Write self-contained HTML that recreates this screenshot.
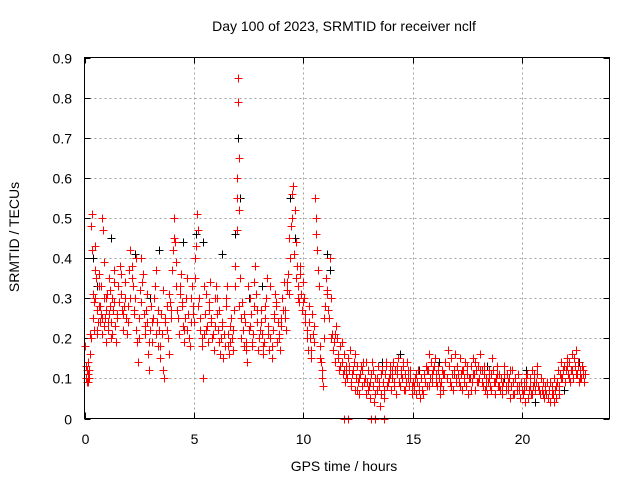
<!DOCTYPE html>
<html><head><meta charset="utf-8"><style>
body{margin:0;background:#fff}
svg{display:block;font-family:"Liberation Sans",sans-serif}
</style></head><body>
<svg id="chart" width="640" height="480" viewBox="0 0 640 480">
<rect width="640" height="480" fill="#fff"/>
<text x="344" y="31" font-size="14" text-anchor="middle" fill="#000">Day 100 of 2023, SRMTID for receiver nclf</text>
<text x="344" y="471" font-size="14" text-anchor="middle" fill="#000">GPS time / hours</text>
<text transform="translate(19,237) rotate(-90)" font-size="14" text-anchor="middle" fill="#000">SRMTID / TECUs</text>
<g id="grid"></g>
<g id="ticks"></g>
<g id="blackPts" stroke="#000" stroke-width="1"></g>
<g id="redPts" stroke="#f00" stroke-width="1"></g>
<rect x="84.5" y="57.5" width="525" height="361" fill="none" stroke="#000" stroke-width="1"/>
</svg>
<script>
const xTicks=[0,5,10,15,20];
const yTicks=[0,0.1,0.2,0.3,0.4,0.5,0.6,0.7,0.8,0.9];
const yTickLabels=["0","0.1","0.2","0.3","0.4","0.5","0.6","0.7","0.8","0.9"];
const blackData=[[0.4,0.40],[0.55,0.33],[1.2,0.45],[2.3,0.41],[3.4,0.42],[4.5,0.44],[5.1,0.46],[5.4,0.44],[6.3,0.41],[6.9,0.46],[7.02,0.70],[7.1,0.55],[7.5,0.30],[9.4,0.55],[9.6,0.45],[11.1,0.41],[11.2,0.37],[13.6,0.14],[14.4,0.16],[15.3,0.12],[16.2,0.14],[17.3,0.12],[18.4,0.13],[19.2,0.10],[20.2,0.12],[20.6,0.04],[21.3,0.09],[21.9,0.07],[22.6,0.14],[3.0,0.30],[8.1,0.33]];
const redData=[[0.02,.18],[0.05,.10],[0.08,.13],[0.1,.09],[0.12,.12],[0.15,.11],[0.18,.14],[0.2,.10],[0.22,.12],[0.25,.16],[0.28,.20],[0.3,.48],[0.33,.42],[0.36,.51],[0.4,.25],[0.42,.22],[0.45,.29],[0.48,.30],[0.5,.43],[0.52,.35],[0.55,.27],[0.58,.21],[0.6,.24],[0.65,.33],[0.68,.36],[0.7,.28],[0.72,.24],[0.75,.26],[0.78,.21],[0.8,.25],[0.82,.50],[0.85,.47],[0.88,.39],[0.9,.30],[0.93,.25],[0.96,.19],[1.0,.27],
[1.03,.31],[1.06,.22],[1.1,.26],[1.13,.35],[1.16,.28],[1.2,.20],[1.23,.24],[1.26,.30],[1.3,.27],[1.33,.34],[1.36,.29],[1.4,.23],[1.45,.19],[1.5,.26],[1.55,.33],[1.6,.38],[1.65,.31],[1.7,.27],[1.75,.22],[1.8,.28],[1.85,.34],[1.9,.25],[1.95,.21],[2.0,.28],
[2.05,.37],[2.1,.42],[2.15,.38],[2.2,.33],[2.25,.26],[2.3,.30],[2.35,.22],[2.4,.19],[2.45,.14],[2.5,.25],[2.55,.32],[2.6,.40],[2.65,.34],[2.7,.26],[2.75,.21],[2.8,.27],[2.85,.24],[2.9,.16],[2.95,.12],[3.0,.22],
[3.05,.28],[3.1,.19],[3.15,.25],[3.2,.33],[3.25,.37],[3.3,.24],[3.35,.18],[3.4,.22],[3.45,.15],[3.5,.26],[3.55,.21],[3.6,.12],[3.65,.10],[3.7,.24],[3.75,.28],[3.8,.20],[3.85,.16],[3.9,.29],[3.95,.25],[4.0,.37],
[4.05,.42],[4.1,.50],[4.15,.44],[4.2,.33],[4.25,.27],[4.3,.21],[4.35,.31],[4.4,.36],[4.45,.28],[4.5,.23],[4.55,.19],[4.6,.25],[4.65,.30],[4.7,.22],[4.75,.26],[4.8,.18],[4.85,.24],[4.9,.33],[4.95,.28],[5.0,.24],
[5.05,.35],[5.1,.43],[5.15,.51],[5.2,.47],[5.25,.30],[5.3,.22],[5.35,.18],[5.4,.10],[5.45,.21],[5.5,.26],[5.55,.31],[5.6,.23],[5.65,.19],[5.7,.27],[5.75,.34],[5.8,.25],[5.85,.20],[5.9,.17],[5.95,.23],[6.0,.33],
[6.05,.30],[6.1,.22],[6.15,.27],[6.2,.16],[6.25,.20],[6.3,.23],[6.35,.15],[6.4,.18],[6.45,.28],[6.5,.33],[6.55,.21],[6.6,.16],[6.65,.19],[6.7,.25],[6.75,.20],[6.8,.17],[6.85,.27],[6.9,.38],[6.95,.47],[6.98,.60],[7.0,.85],[7.02,.79],[7.04,.65],[7.06,.52],[7.1,.35],
[7.15,.25],[7.2,.29],[7.25,.22],[7.3,.18],[7.35,.24],[7.4,.19],[7.45,.14],[7.5,.22],[7.55,.30],[7.6,.26],[7.65,.18],[7.7,.21],[7.75,.28],[7.8,.38],[7.85,.31],[7.9,.24],[7.95,.17],[8.0,.22],
[8.05,.27],[8.1,.21],[8.15,.16],[8.2,.19],[8.25,.25],[8.3,.30],[8.35,.35],[8.4,.23],[8.45,.17],[8.5,.20],[8.55,.15],[8.6,.22],[8.65,.26],[8.7,.31],[8.75,.28],[8.8,.19],[8.85,.24],[8.9,.21],[8.95,.17],[9.0,.25],
[9.05,.30],[9.1,.34],[9.15,.27],[9.2,.22],[9.25,.32],[9.3,.36],[9.35,.31],[9.4,.40],[9.45,.48],[9.5,.56],[9.55,.58],[9.6,.52],[9.65,.44],[9.7,.38],[9.75,.33],[9.8,.29],[9.85,.36],[9.9,.31],[9.95,.27],[10.0,.34],
[10.05,.30],[10.1,.26],[10.15,.22],[10.2,.17],[10.25,.24],[10.3,.20],[10.35,.15],[10.4,.26],[10.45,.21],[10.5,.19],[10.55,.55],[10.6,.50],[10.65,.42],[10.7,.33],[10.75,.18],[10.8,.14],[10.85,.10],[10.9,.08],[10.95,.20],[11.0,.28],
[11.05,.35],[11.1,.31],[11.15,.27],[11.2,.40],[11.25,.30],[11.3,.21],[11.35,.17],[11.4,.19],[11.45,.14],[11.5,.23],[11.55,.20],[11.6,.16],[11.65,.12],[11.7,.18],[11.75,.14],[11.8,.11],[11.85,.16],[11.9,.09],[11.95,.13],[12.0,.10],
[12.05,.15],[12.1,.12],[12.15,.17],[12.2,.08],[12.25,.11],[12.3,.14],[12.35,.07],[12.4,.10],[12.45,.13],[12.5,.09],[12.55,.06],[12.6,.11],[12.65,.13],[12.7,.08],[12.75,.14],[12.8,.10],[12.85,.06],[12.9,.09],[12.95,.12],[13.0,.08],
[11.85,0],[12.05,0],[13.1,0],[13.3,0],[13.7,0],
[13.05,.05],[13.1,.11],[13.15,.14],[13.2,.08],[13.25,.04],[13.3,.10],[13.35,.07],[13.4,.13],[13.45,.09],[13.5,.03],[13.55,.06],[13.6,.12],[13.65,.09],[13.7,.05],[13.75,.11],[13.8,.14],[13.85,.08],[13.9,.10],[13.95,.13],[14.0,.07],
[14.05,.10],[14.1,.14],[14.15,.09],[14.2,.12],[14.25,.06],[14.3,.11],[14.35,.15],[14.4,.08],[14.45,.12],[14.5,.10],[14.55,.13],[14.6,.07],[14.65,.11],[14.7,.09],[14.75,.14],[14.8,.12],[14.85,.08],[14.9,.10],[14.95,.06],[15.0,.09],
[15.05,.07],[15.1,.10],[15.15,.06],[15.2,.09],[15.25,.12],[15.3,.08],[15.35,.05],[15.4,.10],[15.45,.07],[15.5,.11],[15.55,.09],[15.6,.13],[15.65,.08],[15.7,.12],[15.75,.16],[15.8,.10],[15.85,.14],[15.9,.09],[15.95,.12],[16.0,.15],
[16.05,.11],[16.1,.08],[16.15,.13],[16.2,.10],[16.25,.06],[16.3,.09],[16.35,.12],[16.4,.07],[16.45,.11],[16.5,.14],[16.55,.10],[16.6,.17],[16.65,.13],[16.7,.09],[16.75,.15],[16.8,.11],[16.85,.07],[16.9,.12],[16.95,.16],[17.0,.10],
[17.05,.13],[17.1,.09],[17.15,.15],[17.2,.11],[17.25,.07],[17.3,.12],[17.35,.10],[17.4,.14],[17.45,.08],[17.5,.11],[17.55,.06],[17.6,.10],[17.65,.13],[17.7,.09],[17.75,.15],[17.8,.11],[17.85,.07],[17.9,.12],[17.95,.09],[18.0,.13],
[18.05,.10],[18.1,.16],[18.15,.12],[18.2,.08],[18.25,.11],[18.3,.07],[18.35,.10],[18.4,.06],[18.45,.09],[18.5,.12],[18.55,.08],[18.6,.11],[18.65,.15],[18.7,.09],[18.75,.06],[18.8,.10],[18.85,.13],[18.9,.08],[18.95,.11],[19.0,.07],
[19.05,.10],[19.1,.06],[19.15,.09],[19.2,.13],[19.25,.08],[19.3,.11],[19.35,.07],[19.4,.10],[19.45,.05],[19.5,.08],[19.55,.12],[19.6,.09],[19.65,.06],[19.7,.10],[19.75,.07],[19.8,.11],[19.85,.08],[19.9,.05],[19.95,.09],[20.0,.07],
[20.05,.06],[20.1,.09],[20.15,.04],[20.2,.08],[20.25,.11],[20.3,.07],[20.35,.10],[20.4,.06],[20.45,.12],[20.5,.08],[20.55,.11],[20.6,.07],[20.65,.09],[20.7,.13],[20.75,.08],[20.8,.06],[20.85,.10],[20.9,.07],[20.95,.09],[21.0,.05],
[21.05,.08],[21.1,.06],[21.15,.09],[21.2,.05],[21.25,.07],[21.3,.04],[21.35,.08],[21.4,.06],[21.45,.10],[21.5,.07],[21.55,.05],[21.6,.09],[21.65,.12],[21.7,.08],[21.75,.11],[21.8,.14],[21.85,.10],[21.9,.13],[21.95,.09],[22.0,.12],
[22.05,.15],[22.1,.11],[22.15,.14],[22.2,.09],[22.25,.12],[22.3,.16],[22.35,.10],[22.4,.13],[22.45,.17],[22.5,.11],[22.55,.14],[22.6,.09],[22.65,.12],[22.7,.10],[22.75,.13],[22.8,.11],[22.85,.09]];
const redData2=[[0.07,.13],[0.17,.09],[0.27,.21],[0.37,.31],[0.47,.37],[0.57,.22],[0.67,.28],[0.77,.33],[0.87,.23],[0.97,.30],
[1.07,.24],[1.17,.32],[1.27,.21],[1.37,.37],[1.47,.25],[1.57,.29],[1.67,.36],[1.77,.26],[1.87,.30],[1.97,.24],
[2.07,.30],[2.17,.35],[2.27,.27],[2.37,.40],[2.47,.20],[2.57,.29],[2.67,.36],[2.77,.23],[2.87,.31],[2.97,.19],
[3.07,.24],[3.17,.30],[3.27,.21],[3.37,.27],[3.47,.18],[3.57,.32],[3.67,.25],[3.77,.22],[3.87,.31],[3.97,.27],
[4.07,.45],[4.17,.39],[4.27,.25],[4.37,.33],[4.47,.29],[4.57,.22],[4.67,.35],[4.77,.20],[4.87,.30],[4.97,.26],
[5.07,.40],[5.17,.28],[5.27,.25],[5.37,.20],[5.47,.33],[5.57,.22],[5.67,.29],[5.77,.24],[5.87,.21],[5.97,.30],
[6.07,.26],[6.17,.19],[6.27,.24],[6.37,.21],[6.47,.30],[6.57,.18],[6.67,.23],[6.77,.22],[6.87,.33],[6.97,.55],
[7.07,.28],[7.17,.20],[7.27,.26],[7.37,.17],[7.47,.33],[7.57,.23],[7.67,.19],[7.77,.34],[7.87,.27],[7.97,.20],
[8.07,.24],[8.17,.18],[8.27,.28],[8.37,.21],[8.47,.33],[8.57,.18],[8.67,.25],[8.77,.29],[8.87,.20],[8.97,.23],
[9.07,.27],[9.17,.25],[9.27,.34],[9.37,.45],[9.47,.50],[9.57,.41],[9.67,.35],[9.77,.30],[9.87,.38],[9.97,.29],
[10.07,.24],[10.17,.20],[10.27,.28],[10.37,.17],[10.47,.23],[10.57,.46],[10.67,.37],[10.77,.15],[10.87,.12],[10.97,.25],
[11.07,.32],[11.17,.25],[11.27,.20],[11.37,.17],[11.47,.21],[11.57,.15],[11.67,.13],[11.77,.19],[11.87,.12],[11.97,.11],
[12.07,.13],[12.17,.09],[12.27,.12],[12.37,.16],[12.47,.07],[12.57,.10],[12.67,.12],[12.77,.09],[12.87,.14],[12.97,.07],
[13.07,.09],[13.17,.12],[13.27,.06],[13.37,.10],[13.47,.08],[13.57,.11],[13.67,.07],[13.77,.13],[13.87,.09],[13.97,.11],
[14.07,.12],[14.17,.08],[14.27,.13],[14.37,.09],[14.47,.11],[14.57,.14],[14.67,.07],[14.77,.10],[14.87,.12],[14.97,.08],
[15.07,.08],[15.17,.11],[15.27,.07],[15.37,.10],[15.47,.06],[15.57,.09],[15.67,.12],[15.77,.08],[15.87,.11],[15.97,.13],
[16.07,.09],[16.17,.12],[16.27,.08],[16.37,.11],[16.47,.14],[16.57,.10],[16.67,.13],[16.77,.08],[16.87,.11],[16.97,.09],
[17.07,.11],[17.17,.08],[17.27,.12],[17.37,.09],[17.47,.13],[17.57,.10],[17.67,.07],[17.77,.11],[17.87,.14],[17.97,.09],
[18.07,.12],[18.17,.09],[18.27,.13],[18.37,.08],[18.47,.10],[18.57,.07],[18.67,.12],[18.77,.09],[18.87,.11],[18.97,.08],
[19.07,.08],[19.17,.11],[19.27,.07],[19.37,.09],[19.47,.12],[19.57,.06],[19.67,.10],[19.77,.08],[19.87,.07],[19.97,.09],
[20.07,.07],[20.17,.10],[20.27,.05],[20.37,.08],[20.47,.06],[20.57,.09],[20.67,.11],[20.77,.07],[20.87,.10],[20.97,.06],
[21.07,.07],[21.17,.05],[21.27,.09],[21.37,.06],[21.47,.04],[21.57,.08],[21.67,.06],[21.77,.10],[21.87,.12],[21.97,.09],
[22.07,.13],[22.17,.10],[22.27,.12],[22.37,.15],[22.47,.11],[22.57,.13],[22.67,.10],[22.77,.12],[22.87,.11]];

const X0=84.5,X1=609.5,Y0=418.5,Y1=57.5,XMAX=24,YMAX=0.9;
function sx(t){return X0+(t/XMAX)*(X1-X0);}
function sy(v){return Y0-(v/YMAX)*(Y0-Y1);}
const NS="http://www.w3.org/2000/svg";
function mk(tag,attrs,parent){const e=document.createElementNS(NS,tag);for(const k in attrs)e.setAttribute(k,attrs[k]);parent.appendChild(e);return e;}
const grid=document.getElementById('grid'),ticks=document.getElementById('ticks');
xTicks.forEach(t=>{
  const x=Math.round(sx(t))+0.5;
  if(t>0){const g=mk('line',{x1:x,x2:x,y1:Y1,y2:Y0,stroke:'#a0a0a0','stroke-dasharray':'2,3'},grid);
  
  }
  mk('line',{x1:x,x2:x,y1:Y0,y2:Y0-6,stroke:'#000'},ticks);
  mk('line',{x1:x,x2:x,y1:Y1,y2:Y1+6,stroke:'#000'},ticks);
  const l=mk('text',{x:x,y:444,'font-size':14,'text-anchor':'middle',fill:'#000'},ticks);
  l.textContent=t;
  
  
});
yTicks.forEach((v,i)=>{
  const y=Math.round(sy(v))+0.5;
  if(v>0&&v<YMAX){const g=mk('line',{x1:X0,x2:X1,y1:y,y2:y,stroke:'#a0a0a0','stroke-dasharray':'2,3'},grid);
  
  }
  mk('line',{x1:X0,x2:X0+6,y1:y,y2:y,stroke:'#000'},ticks);
  mk('line',{x1:X1,x2:X1-6,y1:y,y2:y,stroke:'#000'},ticks);
  const l=mk('text',{x:72,y:y+5,'font-size':14,'text-anchor':'end',fill:'#000'},ticks);
  l.textContent=yTickLabels[i];
  
  
});
function plot(data,gid,name){
  const g=document.getElementById(gid);
  data.forEach(p=>{
    const x=Math.round(sx(p[0]))+0.5,y=Math.round(sy(p[1]))+0.5;
    const e=mk('path',{d:`M${x-4} ${y}H${x+4}M${x} ${y-4}V${y+4}`},g);
    
    
  });
}
plot(blackData,'blackPts','black-point');
plot(redData,'redPts','red-point');
plot(redData2,'redPts','red-point');
</script>
</body></html>
